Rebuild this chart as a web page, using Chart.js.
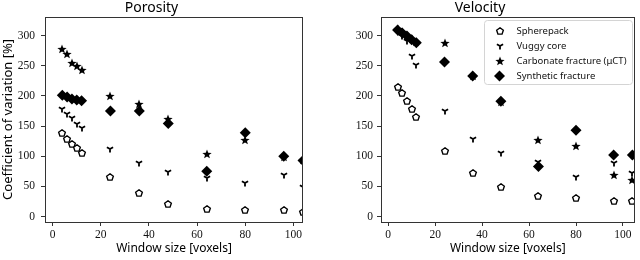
<!DOCTYPE html>
<html>
<head>
<meta charset="utf-8">
<script src="https://cdn.jsdelivr.net/npm/chart.js@4.4.1/dist/chart.umd.min.js"></script>
<style>
  html, body { margin: 0; padding: 0; background: #fff; }
  #wrap { position: relative; width: 640px; height: 260px; overflow: hidden; }
  canvas { position: absolute; top: 0; }
</style>
</head>
<body>
<div id="wrap">
  <canvas id="cPor" width="320" height="260" style="left:0"></canvas>
  <canvas id="cVel" width="320" height="260" style="left:320px"></canvas>
</div>
<script>
// window sizes (voxels) shared by every series
const windowSizes = [4, 6, 8, 10, 12, 24, 36, 48, 64, 80, 96, 104];
const seriesNames = ["Spherepack", "Vuggy core", "Carbonate fracture (\u03bcCT)", "Synthetic fracture"];

// Porosity panel
const porSphere    = [138, 129, 121, 113, 106, 66, 39, 20, 13, 11, 11, 8];
const porVuggy     = [178, 170, 163, 154, 147, 112, 89, 74, 64, 56, 69, 49];
const porCarbonate = [277, 269, 255, 249, 243, 200, 186, 161, 104, 127, 99, 93];
const porSynthetic = [201, 198, 195, 193, 192, 175, 175, 154, 75, 139, 100, 93];

// Velocity panel
const velSphere    = [215, 204, 191, 178, 165, 109, 73, 49, 34, 30, 25, 25];
const velVuggy     = [306, 299, 291, 266, 251, 175, 129, 106, 90, 65, 88, 72];
const velCarbonate = [311, 305, 300, 295, 290, 288, 233, 190, 127, 117, 69, 60];
const velSynthetic = [309, 304, 299, 293, 288, 256, 233, 191, 83, 143, 102, 102];

const xTicks = [0, 20, 40, 60, 80, 100];
const yTicks = [0, 50, 100, 150, 200, 250, 300];

const SERIF = "'Liberation Serif', 'DejaVu Serif', serif";
const SANS = "'Noto Sans', 'DejaVu Sans', sans-serif";

function markerCanvas(size, draw) {
  const c = document.createElement("canvas");
  c.width = size;
  c.height = size;
  const g = c.getContext("2d");
  draw(g, size / 2);
  return c;
}

const pentagon = markerCanvas(10, (g, m) => {
  const r = 3.5;
  g.beginPath();
  for (let i = 0; i < 5; i++) {
    const a = -Math.PI / 2 + i * 2 * Math.PI / 5;
    const px = m + r * Math.cos(a), py = m + r * Math.sin(a) + 0.3;
    i ? g.lineTo(px, py) : g.moveTo(px, py);
  }
  g.closePath();
  g.fillStyle = "#fff";
  g.fill();
  g.lineWidth = 1.4;
  g.strokeStyle = "#000";
  g.stroke();
});

const triDown = markerCanvas(10, (g, m) => {
  const r = 3.6;
  g.beginPath();
  g.moveTo(m, m); g.lineTo(m, m + r);
  g.moveTo(m, m); g.lineTo(m - r * 0.866, m - r * 0.5);
  g.moveTo(m, m); g.lineTo(m + r * 0.866, m - r * 0.5);
  g.lineWidth = 1.8;
  g.strokeStyle = "#000";
  g.stroke();
});

const star = markerCanvas(12, (g, m) => {
  const ro = 4.9, ri = 2.1;
  g.beginPath();
  for (let i = 0; i < 10; i++) {
    const a = -Math.PI / 2 + i * Math.PI / 5;
    const r = i % 2 ? ri : ro;
    const px = m + r * Math.cos(a), py = m + r * Math.sin(a) + 0.4;
    i ? g.lineTo(px, py) : g.moveTo(px, py);
  }
  g.closePath();
  g.fillStyle = "#000";
  g.fill();
});

const styles = [
  { pointStyle: pentagon, radius: 4 },
  { pointStyle: triDown, radius: 4 },
  { pointStyle: star, radius: 5 },
  { pointStyle: "rectRot", radius: 5.5 },
];

function toPoints(ys) {
  return windowSizes.map((x, i) => ({ x, y: ys[i] }));
}

function makeDatasets(series) {
  return series.map((ys, i) => ({
    label: seriesNames[i],
    data: toPoints(ys),
    pointStyle: styles[i].pointStyle,
    pointRadius: styles[i].radius,
    pointHoverRadius: styles[i].radius,
    pointBackgroundColor: "#000",
    pointBorderColor: "#000",
    pointBorderWidth: 0,
    showLine: false,
    order: 3 - i, // synthetic fracture drawn on top
  }));
}

// marker images are drawn at fractional offsets; keep them crisp
const crisp = {
  id: "crisp",
  beforeDatasetsDraw(chart) { chart.ctx.imageSmoothingEnabled = false; },
  afterDatasetsDraw(chart) { chart.ctx.imageSmoothingEnabled = true; },
};

const frame = {
  id: "frame",
  afterDatasetsDraw(chart) {
    const { left, top, right, bottom } = chart.chartArea;
    const ctx = chart.ctx;
    ctx.save();
    ctx.strokeStyle = "#333";
    ctx.lineWidth = 1;
    ctx.strokeRect(Math.round(left) + 0.5, Math.round(top) + 0.5, Math.round(right - left) - 1, Math.round(bottom - top));
    ctx.restore();
  },
};

const legendBox = {
  id: "legendBox",
  afterDraw(chart) {
    const ctx = chart.ctx;
    const { right, top } = chart.chartArea;
    const w = 148, h = 64;
    const x0 = Math.round(right) - w - 2.5, y0 = Math.round(top) + 3.5;
    ctx.save();
    ctx.beginPath();
    ctx.roundRect(x0, y0, w, h, 3);
    ctx.fillStyle = "rgba(255,255,255,0.85)";
    ctx.fill();
    ctx.strokeStyle = "#d4d4d4";
    ctx.lineWidth = 1;
    ctx.stroke();
    ctx.font = `9.5px ${SANS}`;
    ctx.textBaseline = "middle";
    ctx.textAlign = "left";
    ctx.imageSmoothingEnabled = false;
    chart.data.datasets.forEach((ds, i) => {
      const cy = y0 + 10.5 + i * 15;
      ctx.fillStyle = "#000";
      Chart.helpers.drawPoint(ctx, { pointStyle: ds.pointStyle, radius: ds.pointRadius, borderWidth: 0, rotation: 0 }, x0 + 15, cy);
      ctx.fillStyle = "#111";
      ctx.fillText(ds.label, x0 + 32, cy);
    });
    ctx.restore();
  },
};

function makeChart(id, title, series, opts) {
  const tickGrid = { display: true, drawOnChartArea: false, drawTicks: true, tickLength: 4, color: "#333" };
  return new Chart(document.getElementById(id), {
    type: "scatter",
    data: { datasets: makeDatasets(series) },
    options: {
      responsive: false,
      animation: false,
      events: [],
      layout: { padding: { left: 0, right: opts.padRight, top: 0, bottom: 0 } },
      plugins: {
        legend: { display: false },
        tooltip: { enabled: false },
        title: {
          display: true,
          text: title,
          color: "#000",
          font: { family: SANS, size: 14, weight: "normal" },
          padding: { top: 0, bottom: 0 },
        },
      },
      scales: {
        x: {
          type: "linear",
          min: opts.xMin,
          max: opts.xMax,
          grid: tickGrid,
          border: { display: false },
          afterBuildTicks: (s) => { s.ticks = xTicks.map((v) => ({ value: v })); },
          afterFit: (s) => { s.height = 38; },
          ticks: { color: "#111", padding: 2, font: { family: SERIF, size: 11.5 } },
          title: {
            display: true,
            text: "Window size [voxels]",
            color: "#000",
            font: { family: SANS, size: 12 },
            padding: { top: 0, bottom: 4 },
          },
        },
        y: {
          min: -9,
          max: 331,
          grid: tickGrid,
          border: { display: false },
          afterBuildTicks: (s) => { s.ticks = yTicks.map((v) => ({ value: v })); },
          afterFit: (s) => { s.width = opts.yWidth; },
          ticks: { color: "#111", padding: opts.yPad, font: { family: SERIF, size: 11.5 } },
          title: {
            display: opts.yTitle,
            text: "Coefficient of variation [%]",
            color: "#000",
            font: { family: SANS, size: 13 },
            padding: { top: 0, bottom: 0 },
          },
        },
      },
    },
    plugins: opts.legend ? [crisp, frame, legendBox] : [crisp, frame],
  });
}

makeChart("cPor", "Porosity", [porSphere, porVuggy, porCarbonate, porSynthetic],
  { xMin: -3.2, xMax: 104, yWidth: 45, yPad: 6, yTitle: true, padRight: 17, legend: false });
makeChart("cVel", "Velocity", [velSphere, velVuggy, velCarbonate, velSynthetic],
  { xMin: -3.05, xMax: 104.9, yWidth: 61, yPad: 4, yTitle: false, padRight: 0, legend: true });
</script>
</body>
</html>
